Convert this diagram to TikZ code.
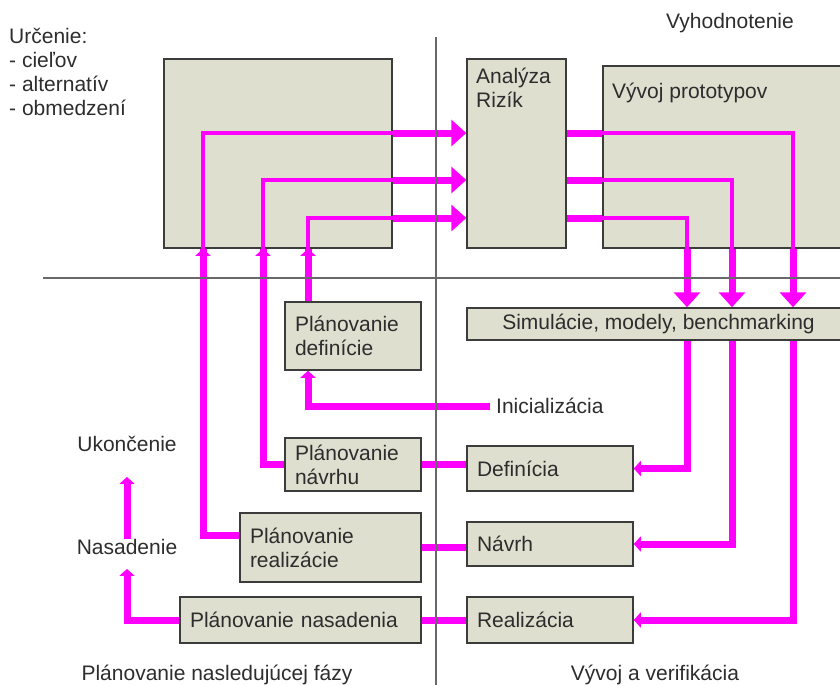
\documentclass[tikz,border=0pt]{standalone}
\usepackage{fontspec}
\setmainfont{Liberation Sans}
\usepackage{tikz}
\usetikzlibrary{arrows.meta, positioning, calc}
\definecolor{boxfill}{RGB}{222,223,207}
\definecolor{boxframe}{RGB}{60,60,60}
\definecolor{flowpink}{RGB}{255,0,255}
\definecolor{txtgrey}{RGB}{45,45,45}
\definecolor{divgrey}{RGB}{105,105,105}
\pgfdeclarelayer{back}
\pgfdeclarelayer{front}
\pgfsetlayers{back,main,front}

\begin{document}
\begin{tikzpicture}[
        x=1pt, y=-1pt,
        font=\fontsize{21}{24}\selectfont,
        basic/.style={rectangle, draw=boxframe, fill=boxfill, line width=1.5pt, inner xsep=10pt, inner ysep=0pt, align=left, text=txtgrey},
        lbl/.style={inner sep=0pt, align=left, text=txtgrey},
        flow/.style={draw=flowpink, line width=7pt},
        thinflow/.style={draw=flowpink, line width=4pt},
        bigtip/.style={-{Triangle[width=26pt, length=15pt]}},
        smalltip/.style={-{Triangle[width=15pt, length=7pt]}},
        divider/.style={draw=divgrey, line width=2pt}
    ]

    \useasboundingbox (0,0) rectangle (840,685);

    \node[basic, minimum width=228pt, minimum height=189pt] (det) at (278,153.5) {};
    \node[basic, minimum width=99pt, minimum height=189pt] (riz) at (516.5,153.5) {};
    \node[basic, minimum width=247pt, minimum height=182pt] (proto) at (726.5,157) {};
    \node[basic, align=center, minimum width=383pt, minimum height=32pt] (sim) at (658.5,324) {Simulácie, modely, benchmarking};

    \node[basic, text width=116pt, minimum height=68pt] (pdef) at (353,336) {Plánovanie\\definície};
    \node[basic, text width=116pt, minimum height=53pt] (pnav) at (353,464.5) {Plánovanie\\návrhu};
    \node[basic, text width=161pt, minimum height=69pt] (preal) at (330.5,547.5) {Plánovanie\\realizácie};
    \node[basic, text width=221pt, minimum height=46pt] (pnas) at (300.5,620) {Plánovanie nasadenia};
    \node[basic, text width=146pt, minimum height=45pt] (def) at (550,468.5) {Definícia};
    \node[basic, text width=146pt, minimum height=44pt] (nav) at (550,544) {Návrh};
    \node[basic, text width=146pt, minimum height=46pt] (real) at (550,620) {Realizácia};

    \node[lbl, anchor=west] (urc) at (9,72) {Určenie:\\- cieľov\\- alternatív\\- obmedzení};
    \node[lbl] (vyh) at (730,23) {Vyhodnotenie};
    \node[lbl, anchor=west] (rizlbl) at (476,88) {Analýza\\Rizík};
    \node[lbl, anchor=west] (protolbl) at (612,93) {Vývoj prototypov};
    \node[lbl, anchor=west, inner xsep=6pt] (ini) at (490,406) {Inicializácia};
    \node[lbl] (ukon) at (127,444) {Ukončenie};
    \node[lbl] (nasad) at (127,547) {Nasadenie};
    \node[lbl] (fazy) at (217,675) {Plánovanie nasledujúcej fázy};
    \node[lbl] (vyvoj) at (655,675) {Vývoj a verifikácia};

    \coordinate (c1) at (203,133);
    \coordinate (c2) at (263,180);
    \coordinate (c3) at (308,218);
    \coordinate (d1) at (793,133);
    \coordinate (d2) at (732,180);
    \coordinate (d3) at (687,218);

    \begin{pgfonlayer}{back}
        \draw[flow, bigtip] ([yshift=12.5pt]preal.west) -| (c1) -- (c1 -| riz.west);
        \draw[flow, bigtip] (pnav.west) -| (c2) -- (c2 -| riz.west);
        \draw[flow, bigtip] ([xshift=-45pt]pdef.north) -- (c3) -- (c3 -| riz.west);
        \draw[flow, smalltip] (c1 |- 0,275) -- (c1 |- det.south);
        \draw[flow, smalltip] (c2 |- 0,275) -- (c2 |- det.south);
        \draw[flow, smalltip] (c3 |- 0,275) -- (c3 |- det.south);

        \draw[flow, bigtip] (c1 -| riz.east) -- (d1) -- (d1 |- sim.north);
        \draw[flow, bigtip] (c2 -| riz.east) -- (d2) -- (d2 |- sim.north);
        \draw[flow, bigtip] (c3 -| riz.east) -- (d3) -- (d3 |- sim.north);
        \draw[flow, smalltip] (d3 |- sim.south) |- (def.east);
        \draw[flow, smalltip] (d2 |- sim.south) |- (nav.east);
        \draw[flow, smalltip] (d1 |- sim.south) |- (real.east);

        \draw[flow] (pnav.east) -- (pnav.east -| def.west);
        \draw[flow] (preal.east) -- (preal.east -| nav.west);
        \draw[flow] (pnas.east) -- (real.west);
        \draw[flow, smalltip] (ini.west) -| ([xshift=-45pt]pdef.south);
        \draw[flow, smalltip] (pnas.west) -| ([yshift=-14pt]nasad.south);
        \draw[flow, smalltip] (nasad.north) -- ([yshift=-25pt]ukon.south);
    \end{pgfonlayer}

    \draw[thinflow] (c1 |- det.south) -- (c1) -- (c1 -| det.east);
    \draw[thinflow] (c2 |- det.south) -- (c2) -- (c2 -| det.east);
    \draw[thinflow] (c3 |- det.south) -- (c3) -- (c3 -| det.east);
    \draw[thinflow] (d1 -| proto.west) -- (d1) -- (d1 |- proto.south);
    \draw[thinflow] (d2 -| proto.west) -- (d2) -- (d2 |- proto.south);
    \draw[thinflow] (d3 -| proto.west) -- (d3) -- (d3 |- proto.south);

    \coordinate (vtop) at (436,37);
    \coordinate (vbot) at (436,685);
    \coordinate (hleft) at (43,278);
    \coordinate (hright) at (840,278);
    \begin{pgfonlayer}{front}
        \draw[divider] (vtop) -- (vbot);
        \draw[divider] (hleft) -- (hright);
    \end{pgfonlayer}
\end{tikzpicture}
\end{document}
